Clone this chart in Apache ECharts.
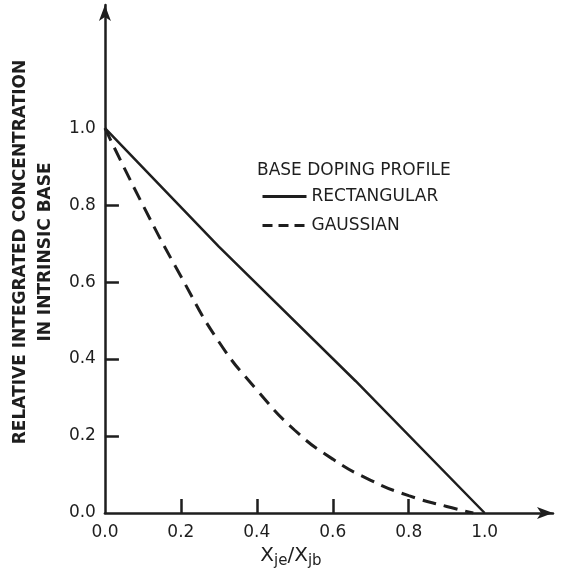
<!DOCTYPE html>
<html>
<head>
<meta charset="utf-8">
<script src="https://cdn.jsdelivr.net/npm/echarts@6/dist/echarts.min.js"></script>
<style>
  html, body { margin: 0; padding: 0; background: #fff; }
  #chart { width: 561px; height: 576px; }
</style>
</head>
<body>
<div id="chart"></div>
<script>
const INK = '#1e1e1e';
const FONT = 'DejaVu Sans';

// values
const rectX = [0.0, 0.3, 0.66, 1.0];
const rectY = [1.0, 0.692, 0.343, 0.0];
const gaussX = [0.0, 0.1, 0.2, 0.3, 0.4, 0.5, 0.6, 0.7, 0.8, 0.9, 0.97];
const gaussY = [1.0, 0.8, 0.615, 0.445, 0.32, 0.215, 0.14, 0.085, 0.045, 0.017, 0.0];
const labelValues = [0, 0.2, 0.4, 0.6, 0.8, 1.0];
const tickValues = [0.2, 0.4, 0.6, 0.8];

const zip = (xs, ys) => xs.map((x, i) => [x, ys[i]]);

const chart = echarts.init(document.getElementById('chart'), null, { renderer: 'canvas' });

chart.setOption({
  backgroundColor: '#fff',
  animation: false,
  textStyle: { fontFamily: FONT, color: INK },
  grid: { left: 103, right: 8, top: 5, bottom: 63 },
  title: {
    text: 'BASE DOPING PROFILE',
    left: 252,
    top: 157,
    textStyle: { fontFamily: FONT, fontSize: 17, fontWeight: 'normal', color: INK },
  },
  legend: {
    orient: 'vertical',
    left: 256,
    top: 183,
    itemWidth: 44,
    itemHeight: 12,
    itemGap: 12,
    itemStyle: { color: 'transparent', borderWidth: 0 },
    textStyle: { fontFamily: FONT, fontSize: 17, color: INK },
    data: [
      { name: 'RECTANGULAR', lineStyle: { width: 3 } },
      { name: 'GAUSSIAN', lineStyle: { type: [10, 6], width: 3 } },
    ],
  },
  xAxis: {
    type: 'value',
    min: 0,
    max: 1.18,
    splitLine: { show: false },
    axisLine: {
      onZero: false,
      symbol: ['none', 'arrow'],
      symbolSize: [9, 16],
      lineStyle: { color: INK, width: 2.5 },
    },
    axisTick: { inside: true, length: 14, customValues: tickValues, lineStyle: { color: INK, width: 2.5 } },
    axisLabel: {
      customValues: labelValues,
      margin: 11,
      fontSize: 17,
      color: INK,
      formatter: (v) => v.toFixed(1),
    },
    name: '{b|X}{s|je}{b|/X}{s|jb}',
    nameLocation: 'middle',
    nameGap: 30,
    nameTextStyle: {
      padding: [0, 76, 0, 0],
      rich: {
        b: { fontFamily: FONT, fontSize: 20, color: INK },
        s: { fontFamily: FONT, fontSize: 15, color: INK, padding: [11, 0, 0, 0] },
      },
    },
  },
  yAxis: {
    type: 'value',
    min: 0,
    max: 1.32,
    splitLine: { show: false },
    axisLine: {
      onZero: false,
      symbol: ['none', 'arrow'],
      symbolSize: [9, 16],
      lineStyle: { color: INK, width: 2.5 },
    },
    axisTick: { inside: true, length: 14, customValues: tickValues, lineStyle: { color: INK, width: 2.5 } },
    axisLabel: {
      customValues: labelValues,
      margin: 9,
      fontSize: 17,
      color: INK,
      formatter: (v) => v.toFixed(1),
    },
    name: 'RELATIVE INTEGRATED CONCENTRATION\nIN INTRINSIC BASE',
    nameLocation: 'middle',
    nameRotate: 90,
    nameGap: 44,
    nameTextStyle: {
      fontFamily: FONT, fontSize: 17, fontWeight: 'bold', lineHeight: 25, color: INK,
      padding: [0, 0, 0, 14],
    },
  },
  series: [
    {
      name: 'RECTANGULAR',
      type: 'line',
      data: zip(rectX, rectY),
      symbol: 'none',
      lineStyle: { color: INK, width: 2.5, type: 'solid' },
      itemStyle: { color: INK },
    },
    {
      name: 'GAUSSIAN',
      type: 'line',
      smooth: true,
      data: zip(gaussX, gaussY),
      symbol: 'none',
      lineStyle: { color: INK, width: 3, type: [14, 8] },
      itemStyle: { color: INK },
    },
  ],
});
</script>
</body>
</html>
